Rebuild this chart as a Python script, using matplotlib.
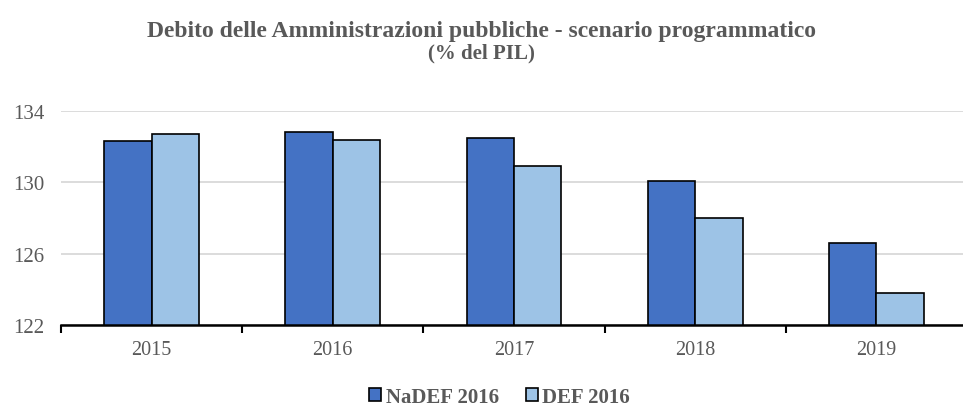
import matplotlib

matplotlib.use("Agg")
import matplotlib.pyplot as plt
import numpy as np

years = ["2015", "2016", "2017", "2018", "2019"]
nadef = [132.3, 132.8, 132.5, 130.1, 126.6]
def16 = [132.7, 132.4, 130.9, 128.0, 123.8]
yticks = [122, 126, 130, 134]

GREY = "#595959"
plt.rcParams["font.family"] = ["Liberation Serif", "DejaVu Serif"]

fig = plt.figure(figsize=(9.63, 4.10), dpi=100)
ax = fig.add_axes([61 / 963, 1 - 326 / 410, 906 / 963, 214 / 410])

x = np.arange(len(years))
w = 0.262
ax.bar(x - w / 2, nadef, w, color="#4472C4", edgecolor="black", lw=1.2,
       label="NaDEF 2016", zorder=3)
ax.bar(x + w / 2, def16, w, color="#9DC3E6", edgecolor="black", lw=1.2,
       label="DEF 2016", zorder=3)

ax.set_ylim(122, 134)
ax.set_xlim(-0.5, 4.5)
ax.set_yticks(yticks)
ax.set_yticklabels([str(t) for t in yticks], color=GREY, fontsize=15)
ax.tick_params(axis="y", length=0, pad=12)
ax.grid(axis="y", color="#D9D9D9", lw=1.3, zorder=0)

ax.set_xticks(x)
ax.set_xticklabels(years, color=GREY, fontsize=14.5)
ax.set_xticks(np.arange(-0.5, 4.6, 1), minor=True)
ax.tick_params(axis="x", which="major", length=0, pad=11)
ax.tick_params(axis="x", which="minor", length=6, width=1.5, color="black")

for s in ["top", "right", "left"]:
    ax.spines[s].set_visible(False)
ax.spines["bottom"].set_linewidth(1.8)
ax.spines["bottom"].set_zorder(4)

fig.text(0.5, 1 - 31 / 410, "Debito delle Amministrazioni pubbliche - scenario programmatico",
         ha="center", va="center", fontsize=17, fontweight="bold", color=GREY)
fig.text(0.5, 1 - 53 / 410, "(% del PIL)", ha="center", va="center",
         fontsize=15, fontweight="bold", color=GREY)

leg = fig.legend(loc="center", bbox_to_anchor=(0.5 + 18 / 963, 1 - 398 / 410), ncol=2,
                 frameon=False, fontsize=15, handlelength=0.6, handleheight=0.6,
                 handletextpad=0.2, columnspacing=1.3)
for t in leg.get_texts():
    t.set_color(GREY)
    t.set_fontweight("bold")

fig.savefig("out.png", dpi=100)
